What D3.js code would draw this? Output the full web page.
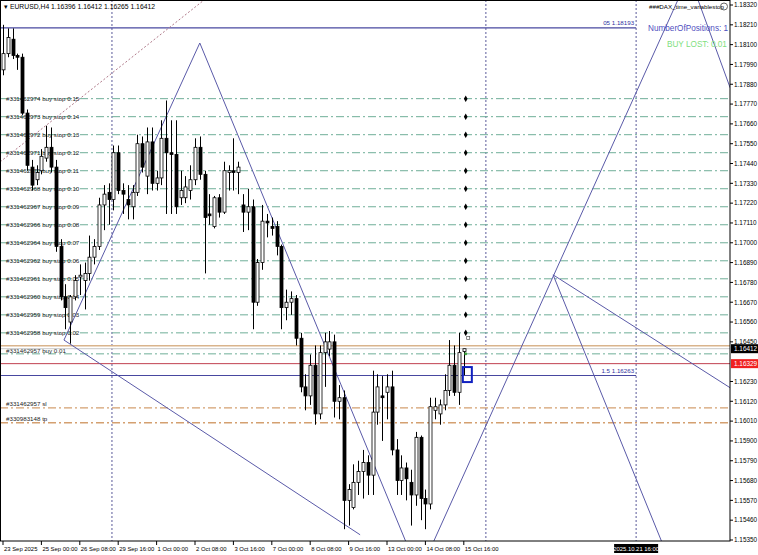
<!DOCTYPE html>
<html><head><meta charset="utf-8">
<script src="https://cdn.jsdelivr.net/npm/d3@7"></script>
<style>body{margin:0;background:#fff}svg{display:block;font-family:"Liberation Sans",Arial,sans-serif}</style>
</head><body><svg id="c" width="758" height="555"></svg>
<script>
// [open, high, low, close]
const candles = [
[1.1796,1.1821,1.1793,1.1805],[1.1805,1.1819,1.1803,1.1814],[1.1813,1.1819,1.1802,1.1804],[1.1804,1.1805,1.1796,1.1803],
[1.1803,1.1805,1.1771,1.1772],[1.1772,1.1774,1.1740,1.1743],[1.1742,1.1746,1.1729,1.1732],[1.1735,1.1743,1.1732,1.1739],
[1.1740,1.1752,1.1738,1.1748],[1.1747,1.1765,1.1745,1.1753],[1.1753,1.1764,1.1739,1.1742],[1.1742,1.1746,1.1695,1.1698],
[1.1698,1.1702,1.1668,1.1670],[1.1670,1.1677,1.1652,1.1664],[1.1656,1.1671,1.1644,1.1670],[1.1670,1.1682,1.1668,1.1679],
[1.1681,1.1688,1.1671,1.1682],[1.1679,1.1689,1.1663,1.1683],[1.1683,1.1704,1.1679,1.1692],[1.1692,1.1702,1.1688,1.1698],
[1.1698,1.1725,1.1696,1.1721],[1.1721,1.1732,1.1707,1.1727],[1.1728,1.1733,1.1710,1.1724],[1.1724,1.1754,1.1718,1.1750],
[1.1750,1.1754,1.1727,1.1729],[1.1729,1.1733,1.1716,1.1727],[1.1724,1.1732,1.1713,1.1721],[1.1720,1.1732,1.1713,1.1728],
[1.1728,1.1760,1.1726,1.1755],[1.1755,1.1759,1.1739,1.1742],[1.1737,1.1764,1.1727,1.1756],[1.1756,1.1764,1.1729,1.1733],
[1.1733,1.1740,1.1729,1.1736],[1.1736,1.1768,1.1732,1.1758],[1.1758,1.1779,1.1716,1.1750],[1.1750,1.1768,1.1716,1.1749],
[1.1749,1.1768,1.1716,1.1720],[1.1725,1.1740,1.1721,1.1729],[1.1725,1.1737,1.1722,1.1731],[1.1729,1.1743,1.1724,1.1735],
[1.1735,1.1758,1.1732,1.1753],[1.1753,1.1759,1.1735,1.1738],[1.1738,1.1740,1.1683,1.1714],[1.1716,1.1727,1.1710,1.1715],
[1.1709,1.1726,1.1708,1.1725],[1.1725,1.1727,1.1714,1.1717],[1.1717,1.1745,1.1716,1.1740],[1.1739,1.1743,1.1729,1.1740],
[1.1740,1.1758,1.1729,1.1739],[1.1739,1.1745,1.1727,1.1742],[1.1721,1.1727,1.1706,1.1717],[1.1717,1.1730,1.1707,1.1720],
[1.1720,1.1724,1.1652,1.1667],[1.1667,1.1691,1.1665,1.1689],[1.1689,1.1721,1.1685,1.1712],[1.1712,1.1716,1.1703,1.1711],
[1.1709,1.1714,1.1704,1.1708],[1.1709,1.1712,1.1693,1.1698],[1.1698,1.1699,1.1652,1.1664],[1.1664,1.1674,1.1657,1.1667],
[1.1667,1.1673,1.1660,1.1669],[1.1669,1.1671,1.1643,1.1647],[1.1647,1.1650,1.1617,1.1620],[1.1620,1.1627,1.1607,1.1615],
[1.1615,1.1638,1.1610,1.1632],[1.1632,1.1643,1.1599,1.1605],[1.1605,1.1643,1.1602,1.1639],[1.1639,1.1650,1.1620,1.1645],
[1.1641,1.1651,1.1637,1.1645],[1.1645,1.1649,1.1603,1.1612],[1.1612,1.1621,1.1602,1.1614],[1.1614,1.1618,1.1541,1.1557],
[1.1557,1.1566,1.1543,1.1563],[1.1553,1.1577,1.1552,1.1567],[1.1567,1.1579,1.1560,1.1573],[1.1573,1.1585,1.1558,1.1578],
[1.1578,1.1582,1.1560,1.1571],[1.1571,1.1629,1.1560,1.1606],[1.1606,1.1627,1.1599,1.1620],[1.1615,1.1626,1.1590,1.1614],
[1.1617,1.1627,1.1602,1.1620],[1.1620,1.1629,1.1582,1.1585],[1.1585,1.1591,1.1560,1.1568],[1.1568,1.1582,1.1560,1.1575],
[1.1575,1.1578,1.1557,1.1569],[1.1567,1.1574,1.1543,1.1560],[1.1560,1.1595,1.1554,1.1592],[1.1592,1.1593,1.1546,1.1558],
[1.1558,1.1563,1.1541,1.1555],[1.1555,1.1614,1.1552,1.1609],[1.1607,1.1614,1.1602,1.1609],[1.1605,1.1613,1.1599,1.1610],
[1.1610,1.1627,1.1607,1.1618],[1.1618,1.1646,1.1615,1.1632],[1.1632,1.1643,1.1615,1.1617],[1.1617,1.1650,1.1610,1.1639],
[1.16396,1.16412,1.16265,1.16412]];
const timeLabels = ["23 Sep 2025","25 Sep 00:00","26 Sep 08:00","29 Sep 16:00","1 Oct 00:00","2 Oct 08:00","3 Oct 16:00","7 Oct 00:00","8 Oct 08:00","9 Oct 16:00","13 Oct 00:00","14 Oct 08:00","15 Oct 16:00"];
const priceTicks = [1.18320,1.18210,1.18100,1.17990,1.17880,1.17770,1.17660,1.17550,1.17440,1.17330,1.17220,1.17110,1.17000,1.16890,1.16780,1.16670,1.16560,1.16450,1.16230,1.16120,1.16010,1.15900,1.15790,1.15680,1.15570,1.15460,1.15350];
const stopIds = ["331462957","331462958","331462959","331462960","331462961","331462962","331462964","331462966","331462967","331462968","331462970","331462971","331462972","331462973","331462974"];
const stopPrices = [1.1640,1.1650,1.1660,1.1670,1.1680,1.1690,1.1700,1.1710,1.1720,1.1730,1.1740,1.1750,1.1760,1.1770,1.1780];
const stopLots = ["0.01","0.02","0.03","0.04","0.05","0.06","0.07","0.08","0.09","0.10","0.11","0.12","0.13","0.14","0.15"];
const zigzag = [[[12.7,1.1646],[41,1.18109],[84.2,1.15323]],[[12.7,1.1646],[74.4,1.15379]],[[89.6,1.15335],[140.6,1.18348]],[[114.6,1.16822],[151.5,1.16195]],[[114.6,1.16822],[137.5,1.15323]],[[144.8,1.18348],[151.5,1.17860]]];
const trendDotted = [[-0.6,1.17449],[41.9,1.18348]];
const vLines = [22.7,100.6,131.9];

const svg=d3.select("#c");
const W=730,H=541;
const x=d3.scaleLinear().domain([0,100]).range([3,483]);
const y=d3.scaleLinear().domain([1.1535,1.1832]).range([540,5]);
const g=svg.append("g");
svg.append("clipPath").attr("id","cp").append("rect").attr("width",W).attr("height",H);
const p=g.append("g").attr("clip-path","url(#cp)");
const FS=6.2;

vLines.forEach(v=>p.append("line").attr("x1",x(v)).attr("x2",x(v)).attr("y1",0).attr("y2",H).attr("stroke","#303080").attr("stroke-dasharray","2,2").attr("stroke-width",0.8));
const dd="8,3,2,3";
stopPrices.forEach((s,i)=>{
  const yy=y(s)+(i==0?3:0);
  p.append("line").attr("x1",0).attr("x2",W).attr("y1",yy).attr("y2",yy).attr("stroke","#6fae98").attr("stroke-dasharray",dd);
  p.append("text").attr("x",6).attr("y",y(s)+2).attr("font-size",FS).attr("fill","#222").text("#"+stopIds[i]+(i==0?" buy ":" buy stop ")+stopLots[i]);
  if(i>0) p.append("path").attr("d",d3.symbol(d3.symbolDiamond,12)()).attr("transform",`translate(${x(96.4)},${y(s)})`).attr("fill","#000");
});
[[1.16084,"#331462957 sl"],[1.16001,"#330983148 tp"]].forEach(d=>{
  p.append("line").attr("x1",0).attr("x2",W).attr("y1",y(d[0])).attr("y2",y(d[0])).attr("stroke","#d4a070").attr("stroke-width",1.3).attr("stroke-dasharray",dd);
  p.append("text").attr("x",6).attr("y",y(d[0])-2).attr("font-size",FS).attr("fill","#222").text(d[1]);
});
p.append("line").attr("x1",0).attr("x2",W).attr("y1",y(1.16428)).attr("y2",y(1.16428)).attr("stroke","#d9b48c").attr("stroke-width",1.5);
p.append("line").attr("x1",0).attr("x2",W).attr("y1",y(1.16412)).attr("y2",y(1.16412)).attr("stroke","#c8c8c8");
p.append("line").attr("x1",0).attr("x2",W).attr("y1",y(1.16329)).attr("y2",y(1.16329)).attr("stroke","#c04050");
[[1.18193,"05  1.18193"],[1.16263,"1.5  1.16263"]].forEach(d=>{
  p.append("line").attr("x1",0).attr("x2",x(131.9)).attr("y1",y(d[0])).attr("y2",y(d[0])).attr("stroke","#4848a0").attr("stroke-width",1.1);
  p.append("text").attr("x",x(131.9)-2).attr("y",y(d[0])-3).attr("text-anchor","end").attr("font-size",FS).attr("fill","#3030a0").text(d[1]);
});
p.append("line").attr("x1",x(trendDotted[0][0])).attr("y1",y(trendDotted[0][1])).attr("x2",x(trendDotted[1][0])).attr("y2",y(trendDotted[1][1])).attr("stroke","#b07a8a").attr("stroke-dasharray","2,2");
const ln=d3.line().x(d=>x(d[0])).y(d=>y(d[1]));
zigzag.forEach(z=>p.append("path").attr("d",ln(z)).attr("fill","none").attr("stroke","#5a5aa8").attr("stroke-width",1));
const cw=3;
candles.forEach((c,i)=>{
  const [o,h,l,cl]=c, cx=Math.round(x(i))+0.5;
  p.append("line").attr("x1",cx).attr("x2",cx).attr("y1",y(h)).attr("y2",y(l)).attr("stroke","#000").attr("stroke-width",1);
  const t=y(Math.max(o,cl)), b=y(Math.min(o,cl));
  p.append("rect").attr("x",cx-cw/2).attr("y",t).attr("width",cw).attr("height",Math.max(1,b-t)).attr("fill",cl>=o?"#fff":"#000").attr("stroke","#000").attr("stroke-width",0.8);
});
p.append("rect").attr("x",x(95.8)).attr("y",y(1.16310)).attr("width",9).attr("height",15).attr("fill","none").attr("stroke","#1020c0").attr("stroke-width",2);
p.append("circle").attr("cx",x(96.4)).attr("cy",y(1.1639)+1).attr("r",1.5).attr("fill","#40a040");
p.append("rect").attr("x",x(96.6)).attr("y",y(1.1648)).attr("width",3).attr("height",3).attr("fill","#fff").attr("stroke","#555").attr("stroke-width",0.7);

g.append("rect").attr("x",0.5).attr("y",0.5).attr("width",W-0.5).attr("height",H-0.5).attr("fill","none").attr("stroke","#000");
priceTicks.forEach(t=>{
  g.append("line").attr("x1",W).attr("x2",W+3).attr("y1",y(t)).attr("y2",y(t)).attr("stroke","#000");
  g.append("text").attr("x",W+4).attr("y",y(t)+2.3).attr("font-size",6.4).attr("fill","#000").text(t.toFixed(5));
});
function tag(v,bg,fg){
  g.append("rect").attr("x",W+1).attr("y",y(v)-4.5).attr("width",27).attr("height",9).attr("fill",bg);
  g.append("text").attr("x",W+4).attr("y",y(v)+2.3).attr("font-size",6.4).attr("fill",fg).text(v.toFixed(5));
}
tag(1.16412,"#000","#fff");
tag(1.16329,"#f02020","#fff");
timeLabels.forEach((t,i)=>{
  const xx=x(i*8);
  g.append("line").attr("x1",xx).attr("x2",xx).attr("y1",H).attr("y2",H+4).attr("stroke","#000");
  g.append("text").attr("x",xx+1).attr("y",H+9.5).attr("font-size",5.9).attr("fill","#000").text(t);
});
g.append("rect").attr("x",x(131.9)-22).attr("y",H+3).attr("width",44).attr("height",9).attr("fill","#000");
g.append("text").attr("x",x(131.9)).attr("y",H+9.5).attr("text-anchor","middle").attr("font-size",5.9).attr("fill","#fff").text("2025.10.21 16:00");
g.append("text").attr("x",4).attr("y",9).attr("font-size",6.8).attr("fill","#000").text("▾ EURUSD,H4  1.16396 1.16412 1.16265 1.16412");
g.append("text").attr("x",649).attr("y",9).attr("font-size",FS).attr("fill","#000").text("###DAX_time_variablestop");
g.append("circle").attr("cx",724).attr("cy",6.5).attr("r",3.5).attr("fill","none").attr("stroke","#666");
g.append("text").attr("x",648).attr("y",31).attr("font-size",8.2).attr("fill","#5050c0").text("NumberOfPositions: 1");
g.append("text").attr("x",667).attr("y",47).attr("font-size",8.2).attr("fill","#80e080").text("BUY LOST: 0.01");
</script></body></html>
